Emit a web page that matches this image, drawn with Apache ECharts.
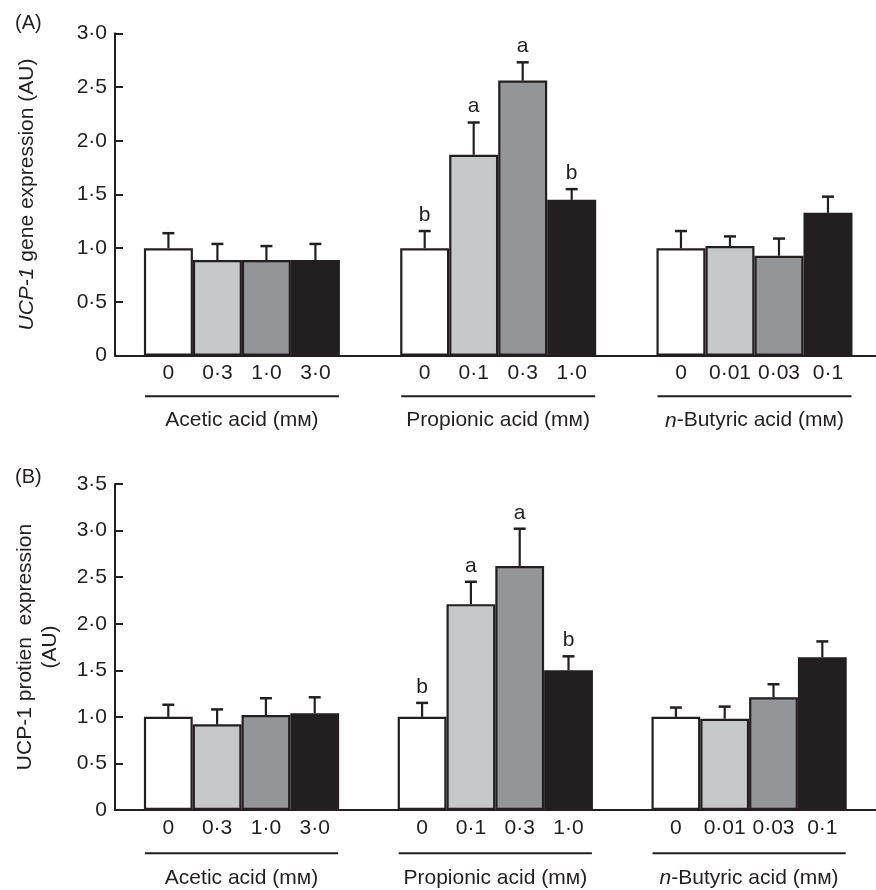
<!DOCTYPE html>
<html><head><meta charset="utf-8">
<script src="https://cdn.jsdelivr.net/npm/echarts@6/dist/echarts.min.js"></script>
<style>html,body{margin:0;padding:0;background:#fff}#c{width:876px;height:890px}</style>
</head><body><div id="c"></div>
<script>
// ---------- data ----------
const groupNames = ['Acetic acid (mм)', 'Propionic acid (mм)', '{i|n}-Butyric acid (mм)'];
const doseLabels = [['0', '0·3', '1·0', '3·0'], ['0', '0·1', '0·3', '1·0'], ['0', '0·01', '0·03', '0·1']];
const barColors = ['#ffffff', '#c7c8ca', '#939598', '#231f20'];

const geneMean = [1.00, 0.89, 0.89, 0.89, 1.00, 1.87, 2.56, 1.45, 1.00, 1.02, 0.93, 1.33];
const geneSEM = [0.14, 0.15, 0.13, 0.15, 0.16, 0.30, 0.17, 0.10, 0.16, 0.09, 0.16, 0.15];
const geneLetters = ['', '', '', '', 'b', 'a', 'a', 'b', '', '', '', ''];

const proteinMean = [1.00, 0.92, 1.02, 1.04, 1.00, 2.21, 2.62, 1.50, 1.00, 0.98, 1.21, 1.64];
const proteinSEM = [0.13, 0.16, 0.18, 0.17, 0.15, 0.24, 0.40, 0.15, 0.10, 0.13, 0.14, 0.17];
const proteinLetters = ['', '', '', '', 'b', 'a', 'a', 'b', '', '', '', ''];

const geneTicks = { max: 3.0, interval: 0.5 };
const proteinTicks = { max: 3.5, interval: 0.5 };

// ---------- layout ----------
const INK = '#231f20';
const FONT = '"Liberation Sans", Arial, Helvetica, sans-serif';
const FS = 21;
const panels = [
  { grid: { left: 115, right: 0, top: 33.3, bottom: 890 - 355.7 }, stride: 5.23, xmin: -1.09, xmax: 14.44, barW: 49,
    mean: geneMean, sem: geneSEM, letters: geneLetters, ticks: geneTicks,
    name: '{i|UCP-1} gene expression (AU)', nameGap: 75, offs: [17.5, 40.5, 65] },
  { grid: { left: 115, right: 0, top: 484, bottom: 80 }, stride: 5.2, xmin: -1.092, xmax: 14.5, barW: 48.8,
    mean: proteinMean, sem: proteinSEM, letters: proteinLetters, ticks: proteinTicks,
    name: 'UCP-1 protien  expression\n(AU)', nameGap: 52, offs: [18.3, 43.3, 68.3] }
];

function xPos(p, g, i) { return g * p.stride + i; }

const option = {
  animation: false,
  backgroundColor: '#fff',
  title: [
    { text: '(A)', left: 10, top: 8, textStyle: { fontFamily: FONT, fontSize: 20, fontWeight: 'normal', color: INK } },
    { text: '(B)', left: 10, top: 462, textStyle: { fontFamily: FONT, fontSize: 20, fontWeight: 'normal', color: INK } }
  ],
  grid: panels.map(p => p.grid),
  xAxis: panels.map((p, k) => ({
    type: 'value', gridIndex: k, min: p.xmin, max: p.xmax,
    axisLine: { show: true, onZero: false, lineStyle: { color: INK, width: 2 } },
    axisTick: { show: false }, axisLabel: { show: false }, splitLine: { show: false }
  })),
  yAxis: panels.map((p, k) => ({
    type: 'value', gridIndex: k, min: 0, max: p.ticks.max, interval: p.ticks.interval,
    name: p.name, nameLocation: 'middle', nameGap: p.nameGap, nameRotate: 90,
    nameTextStyle: { fontFamily: FONT, fontSize: FS, color: INK, lineHeight: 25,
      rich: { i: { fontStyle: 'italic', fontFamily: FONT, fontSize: FS, color: INK } } },
    axisLine: { show: true, onZero: false, lineStyle: { color: INK, width: 2 } },
    axisTick: { show: true, inside: true, length: 8, lineStyle: { color: INK, width: 2 } },
    axisLabel: { margin: 8, fontFamily: FONT, fontSize: FS, color: INK,
      formatter: v => v === 0 ? '0' : v.toFixed(1).replace('.', '·') },
    splitLine: { show: false }
  })),
  series: []
};

panels.forEach((p, k) => {
  const xs = [], bars = [];
  for (let g = 0; g < 3; g++) for (let i = 0; i < 4; i++) {
    const idx = g * 4 + i;
    xs.push(xPos(p, g, i));
    bars.push({ value: [xPos(p, g, i), p.mean[idx]],
      itemStyle: { color: barColors[i], borderColor: INK, borderWidth: 2.2 } });
  }
  option.series.push({ type: 'bar', xAxisIndex: k, yAxisIndex: k, barWidth: p.barW, data: bars, z: 3 });
  // error bars + significance letters
  option.series.push({
    type: 'custom', xAxisIndex: k, yAxisIndex: k, z: 2, clip: false,
    data: xs.map((x, i) => [x, p.mean[i], p.sem[i]]),
    renderItem: (params, api) => {
      const x = api.value(0), m = api.value(1), e = api.value(2);
      const p0 = api.coord([x, m]), p1 = api.coord([x, m + e]);
      const ch = [
        { type: 'line', shape: { x1: p0[0], y1: p0[1], x2: p1[0], y2: p1[1] }, style: { stroke: INK, lineWidth: 2.2 } },
        { type: 'line', shape: { x1: p1[0] - 6, y1: p1[1], x2: p1[0] + 6, y2: p1[1] }, style: { stroke: INK, lineWidth: 2.5 } }
      ];
      const L = p.letters[params.dataIndex];
      if (L) ch.push({ type: 'text', style: { text: L, x: p1[0], y: p1[1] - 16, align: 'center', verticalAlign: 'middle',
        fontFamily: FONT, fontSize: FS, fill: INK } });
      return { type: 'group', children: ch };
    }
  });
  // dose labels under bars
  option.series.push({
    type: 'custom', xAxisIndex: k, yAxisIndex: k, clip: false,
    data: xs.map(x => [x, 0]),
    renderItem: (params, api) => {
      const c = api.coord([api.value(0), 0]);
      const g = Math.floor(params.dataIndex / 4), i = params.dataIndex % 4;
      return { type: 'text', style: { text: doseLabels[g][i], x: c[0], y: c[1] + p.offs[0], align: 'center', verticalAlign: 'middle',
        fontFamily: FONT, fontSize: FS, fill: INK } };
    }
  });
  // group underline + group label
  option.series.push({
    type: 'custom', xAxisIndex: k, yAxisIndex: k, clip: false,
    data: [0, 1, 2].map(g => [xPos(p, g, 0) - 0.5, xPos(p, g, 3) + 0.5]),
    renderItem: (params, api) => {
      const a = api.coord([api.value(0), 0]), b = api.coord([api.value(1), 0]);
      return { type: 'group', children: [
        { type: 'line', shape: { x1: a[0] + 1, y1: a[1] + p.offs[1], x2: b[0] - 1, y2: a[1] + p.offs[1] }, style: { stroke: INK, lineWidth: 2 } },
        { type: 'text', style: { text: groupNames[params.dataIndex], x: (a[0] + b[0]) / 2, y: a[1] + p.offs[2], align: 'center', verticalAlign: 'middle',
          fontFamily: FONT, fontSize: FS, fill: INK,
          rich: { i: { fontStyle: 'italic', fontFamily: FONT, fontSize: FS, fill: INK, color: INK } } } }
      ] };
    }
  });
});

const chart = echarts.init(document.getElementById('c'), null, { renderer: 'canvas' });
chart.setOption(option);
</script></body></html>
